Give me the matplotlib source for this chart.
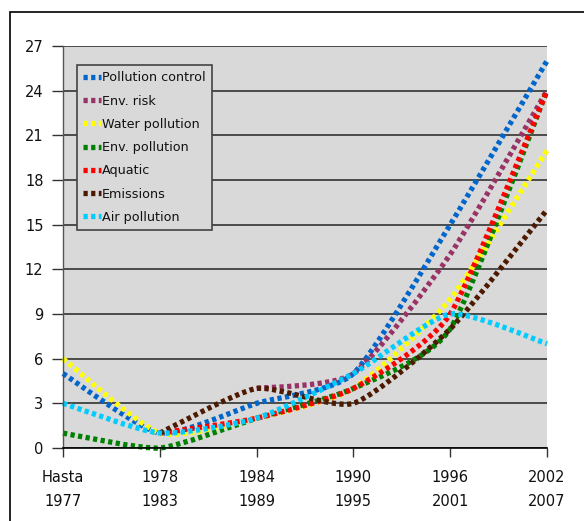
import numpy as np
import matplotlib
matplotlib.use("Agg")
import matplotlib.pyplot as plt
from matplotlib.path import Path
from matplotlib.patches import PathPatch, Rectangle
from matplotlib.lines import Line2D

# Periods on the x axis
periods = ["Hasta\n1977", "1978\n1983", "1984\n1989", "1990\n1995", "1996\n2001", "2002\n2007"]

# Number of items per period for each topic (nan = no entry for that period)
pollution_control = [5, 1, 3, 5, 15, 26]
env_risk = [np.nan, np.nan, 4, 5, 13, 24]
water_pollution = [6, 1, 2, 4, 10, 20]
env_pollution = [1, 0, 2, 4, 8, 24]
aquatic = [np.nan, 1, 2, 4, 9, 24]
emissions = [np.nan, 1, 4, 3, 8, 16]
air_pollution = [3, 1, 2, 5, 9, 7]

series = [
    ("Pollution control", pollution_control, "#0066cc"),
    ("Env. risk", env_risk, "#993366"),
    ("Water pollution", water_pollution, "#ffff00"),
    ("Env. pollution", env_pollution, "#008000"),
    ("Aquatic", aquatic, "#ff0000"),
    ("Emissions", emissions, "#4d1a00"),
    ("Air pollution", air_pollution, "#00ccff"),
]

yticks = [0, 3, 6, 9, 12, 15, 18, 21, 24, 27]

W, H = 584, 521
fig = plt.figure(figsize=(W / 100, H / 100), dpi=100)
fig.patch.set_facecolor("white")

# Outer frame (only top and left edges fall inside the canvas)
fig.add_artist(Rectangle((10 / W, -0.05), 1.2, (H - 12) / H + 0.05, transform=fig.transFigure,
                         fill=False, edgecolor="black", linewidth=1.2))

ax = fig.add_axes([63 / W, (H - 448) / H, (547 - 63) / W, (448 - 46) / H])
ax.set_facecolor("#d9d9d9")
ax.set_xlim(0, 5)
ax.set_ylim(0, 27)

for side in ("top", "right"):
    ax.spines[side].set_visible(False)
ax.spines["left"].set_color("#555555")
ax.spines["left"].set_linewidth(1.0)
ax.spines["bottom"].set_color("black")
ax.spines["bottom"].set_linewidth(1.2)

ax.set_yticks(yticks)
ax.set_yticklabels([str(v) for v in yticks])
ax.set_xticks(range(len(periods)))
ax.set_xticklabels(periods, linespacing=1.75)
ax.tick_params(axis="y", length=8, width=1.0, color="#333333", pad=6, labelsize=10.5,
               labelcolor="#111111")
ax.tick_params(axis="x", length=6.5, width=1.0, color="#333333", pad=9.5, labelsize=10.5,
               labelcolor="#111111")
for lab in ax.get_xticklabels():
    lab.set_verticalalignment("top")

ax.yaxis.grid(True, color="#333333", linewidth=1.2)
ax.set_axisbelow(True)

LW = 3.8
DASH = (0, (0.8, 0.65))
TENSION = 1.0 / 10.0


def smooth_path(xs, ys):
    """Cubic Bezier path through the points with softly rounded corners."""
    pts = np.column_stack([xs, ys])
    n = len(pts)
    verts = [pts[0]]
    codes = [Path.MOVETO]
    for i in range(n - 1):
        p0 = pts[i - 1] if i > 0 else pts[i]
        p1 = pts[i]
        p2 = pts[i + 1]
        p3 = pts[i + 2] if i + 2 < n else pts[i + 1]
        c1 = p1 + (p2 - p0) * TENSION
        c2 = p2 - (p3 - p1) * TENSION
        verts += [c1, c2, p2]
        codes += [Path.CURVE4] * 3
    return Path(verts, codes)


handles = []
for name, vals, color in series:
    v = np.asarray(vals, dtype=float)
    x = np.arange(len(v), dtype=float)
    ok = ~np.isnan(v)
    path = smooth_path(x[ok], v[ok])
    patch = PathPatch(path, fill=False, edgecolor=color, linewidth=LW,
                      linestyle=DASH, capstyle="butt", joinstyle="miter", clip_on=False)
    ax.add_patch(patch)
    handles.append(Line2D([], [], color=color, linewidth=LW, linestyle=DASH,
                          solid_capstyle="butt", dash_capstyle="butt", label=name))

leg = ax.legend(handles=handles, loc="upper left", bbox_to_anchor=((77 - 63) / 484, (448 - 65) / 402),
                frameon=True, fancybox=False, facecolor="#d9d9d9", edgecolor="#444444",
                fontsize=9.2, handlelength=1.35, handletextpad=0.12, labelspacing=0.8,
                borderpad=0.5, borderaxespad=0.0)
leg.get_frame().set_linewidth(1.2)
leg.get_frame().set_alpha(1)
for t in leg.get_texts():
    t.set_color("#111111")

fig.savefig("out.png", dpi=100, facecolor="white")
